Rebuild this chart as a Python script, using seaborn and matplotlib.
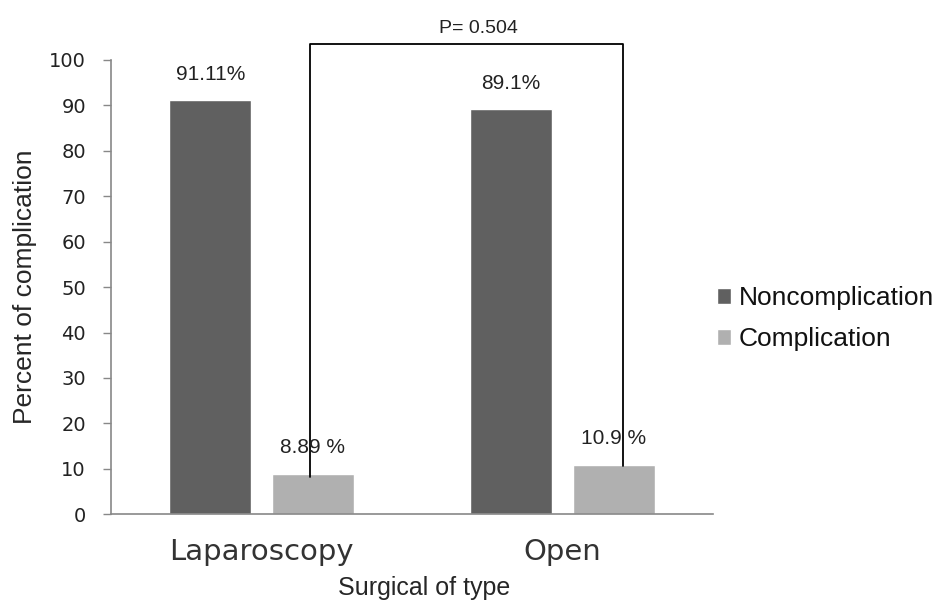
import pandas as pd
import matplotlib
matplotlib.use('Agg')
import matplotlib.pyplot as plt
import seaborn as sns

# data
surgery = ['Laparoscopy', 'Open']
groups = ['Noncomplication', 'Complication']
noncomp = [91.11, 89.1]
comp = [8.89, 10.9]
labels_noncomp = ['91.11%', '89.1%']
labels_comp = ['8.89 %', '10.9 %']
p_text = 'P= 0.504'

df = pd.DataFrame({
    'Surgery': surgery * 2,
    'Group': [groups[0]] * 2 + [groups[1]] * 2,
    'Percent': noncomp + comp,
})

sns.set_style('white')
plt.rcParams['font.family'] = ['Liberation Sans', 'DejaVu Sans']

fig = plt.figure(figsize=(9.48, 6.05), dpi=100)
ax = fig.add_axes([0.117, 0.150, 0.635, 0.751])

sns.barplot(data=df, x='Surgery', y='Percent', hue='Group', order=surgery,
            hue_order=groups, palette=['#606060', '#b0b0b0'],
            width=0.68, gap=0.2, ax=ax, legend=True)

ax.set_ylim(0, 100)
ax.set_xlim(-0.5, 1.5)
ax.set_yticks(range(0, 101, 10))
ax.tick_params(axis='y', length=6, width=1, color='#888888', labelsize=14,
               pad=12, direction='out', left=True)
ax.tick_params(axis='x', length=0, labelsize=21, pad=17)
for lab in ax.get_xticklabels():
    lab.set_fontfamily('DejaVu Sans')
    lab.set_color('#333333')
for lab in ax.get_yticklabels():
    lab.set_fontfamily('DejaVu Sans')
    lab.set_color('#222222')
sns.despine(ax=ax)
for s in ['left', 'bottom']:
    ax.spines[s].set_color('#888888')
    ax.spines[s].set_linewidth(1.2)

ax.set_xlabel('Surgical of type', fontsize=18)
ax.xaxis.set_label_coords(0.52, -0.135)
ax.set_ylabel('Percent of complication', fontsize=19, labelpad=9)

# value labels above each bar
bars_noncomp = ax.containers[0]
bars_comp = ax.containers[1]
ax.bar_label(bars_noncomp, labels=labels_noncomp, padding=12, fontsize=15, color='#222222')
ax.bar_label(bars_comp, labels=labels_comp, padding=12, fontsize=15, color='#222222')

# significance bracket between the two complication bars
x0 = bars_comp[0].get_x() + bars_comp[0].get_width() / 2 - 0.01
x1 = bars_comp[1].get_x() + bars_comp[1].get_width() / 2 + 0.03
top = 103.5
ax.plot([x0, x0, x1, x1], [comp[0] - 0.8, top, top, comp[1] - 0.2],
        color='black', lw=1.3, clip_on=False)
ax.text((x0 + x1) / 2 + 0.04, top + 1.6, p_text, ha='center', va='bottom',
        fontsize=14, color='#222222', clip_on=False)

leg = ax.legend(loc='center left', bbox_to_anchor=(0.98, 0.43), frameon=False,
                fontsize=19, handlelength=0.55, handleheight=0.55,
                handletextpad=0.3, labelspacing=0.65, borderaxespad=0.2)
for t in leg.get_texts():
    t.set_color('#111111')

fig.savefig('out.png', dpi=100)
